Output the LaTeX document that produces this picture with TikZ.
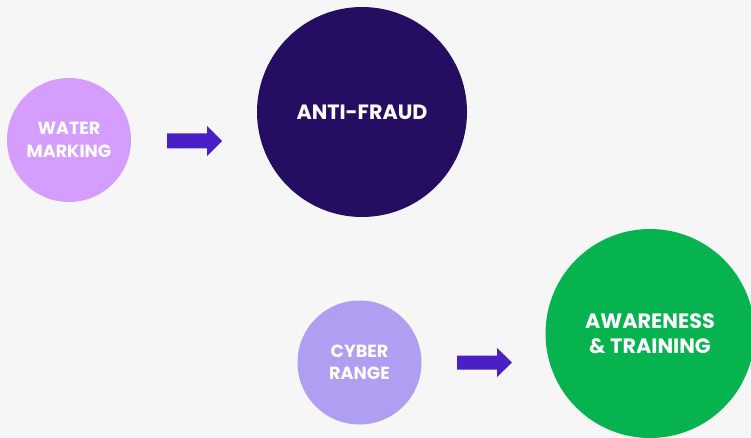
\documentclass[tikz,border=0pt]{standalone}
\usepackage{fontspec}
\setmainfont{Poppins}
\definecolor{bg}{HTML}{F6F6F6}
\definecolor{lilac}{HTML}{D59DFE}
\definecolor{navy}{HTML}{250E62}
\definecolor{lavender}{HTML}{AF9EF1}
\definecolor{grn}{HTML}{07B34F}
\definecolor{arr}{HTML}{4A1FC6}
\begin{document}
\begin{tikzpicture}[x=1pt,y=-1pt,
  bubble/.style={circle,inner sep=0pt,text=white,align=center,font=\bfseries},
  arrowshape/.style={fill=arr}]
\useasboundingbox[fill=bg] (0,0) rectangle (751,438);
\node[bubble,fill=lilac,minimum size=124pt,font=\bfseries\fontsize{17.6}{22.5}\selectfont] (water) at (69,140) {WATER\\MARKING};
\node[bubble,fill=navy,minimum size=210pt,font=\bfseries\fontsize{20.7}{24}\selectfont] (fraud) at (362,112) {ANTI-FRAUD};
\node[bubble,fill=lavender,minimum size=124pt,font=\bfseries\fontsize{17.6}{22.5}\selectfont] (cyber) at (359.5,362.5) {CYBER\\RANGE};
\begin{scope}
\clip (0,0) rectangle (751,438);
\node[bubble,fill=grn,minimum size=209pt,font=\bfseries\fontsize{20.8}{25}\selectfont] (aware) at (650,333.5) {AWARENESS\\\& TRAINING};
\end{scope}
\fill[arrowshape] (167,133.5) -- (207,133.5) -- (207,126) -- (222,141) -- (207,156) -- (207,148.5) -- (167,148.5) -- cycle;
\fill[arrowshape] (457,355.5) -- (497,355.5) -- (497,348) -- (512,362.5) -- (497,377) -- (497,369.5) -- (457,369.5) -- cycle;
\end{tikzpicture}
\end{document}
